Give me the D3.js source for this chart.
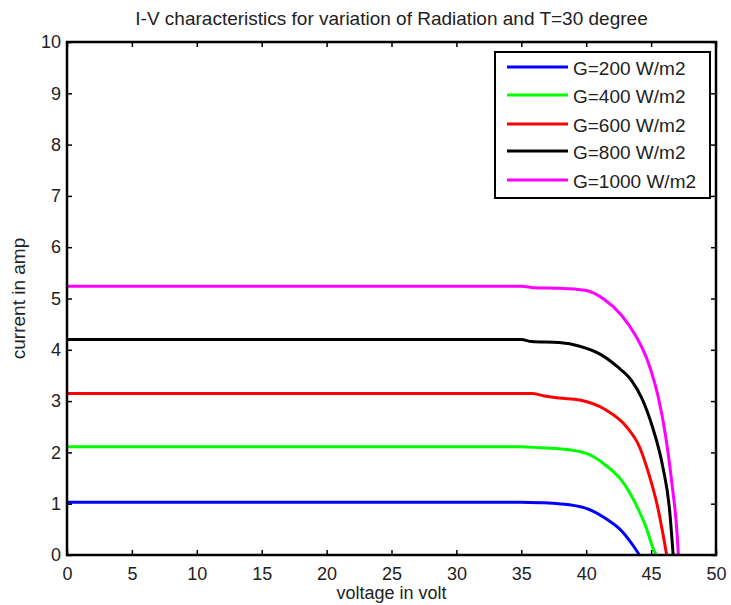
<!DOCTYPE html>
<html>
<head>
<meta charset="utf-8">
<script src="https://cdn.jsdelivr.net/npm/d3@7"></script>
<style>
  body { margin: 0; background: #fff; }
  text { font-family: "Liberation Sans", Arial, sans-serif; }
</style>
</head>
<body>
<svg id="chart" width="731" height="605"></svg>
<script>
// values (voltage in V, current in A)
const labels = ['G=200 W/m2', 'G=400 W/m2', 'G=600 W/m2', 'G=800 W/m2', 'G=1000 W/m2'];
const colors = ['#0000ff', '#00ff00', '#ff0000', '#000000', '#ff00ff'];

const v200 = [0, 10, 20, 30, 35, 36.5, 37.9, 40.0, 41.5, 42.8, 43.6, 44.1];
const i200 = [1.03, 1.03, 1.03, 1.03, 1.03, 1.02, 1.0, 0.91, 0.71, 0.45, 0.19, 0];

const v400 = [0, 10, 20, 30, 35, 36.5, 37.9, 40.0, 41.5, 42.8, 43.8, 44.6, 45.2, 45.4];
const i400 = [2.11, 2.11, 2.11, 2.11, 2.11, 2.09, 2.07, 1.98, 1.75, 1.43, 1.0, 0.55, 0.1, 0];

const v600 = [0, 10, 20, 30, 35.8, 36.8, 37.9, 39.5, 41.5, 43.1, 44.1, 44.8, 45.5, 46.0, 46.2];
const i600 = [3.15, 3.15, 3.15, 3.15, 3.15, 3.1, 3.06, 3.02, 2.83, 2.5, 2.11, 1.6, 0.94, 0.29, 0];

const v800 = [0, 10, 20, 30, 35, 35.8, 37.9, 39.5, 41.1, 42.4, 43.5, 44.3, 45.1, 45.9, 46.4, 46.7];
const i800 = [4.2, 4.2, 4.2, 4.2, 4.2, 4.16, 4.14, 4.07, 3.91, 3.67, 3.4, 3.05, 2.5, 1.72, 0.94, 0];

const v1000 = [0, 10, 20, 30, 35, 36, 37.9, 39.9, 41.4, 42.7, 43.8, 44.8, 45.55, 46.1, 46.6, 47.0, 47.1];
const i1000 = [5.24, 5.24, 5.24, 5.24, 5.24, 5.21, 5.2, 5.16, 4.98, 4.68, 4.28, 3.74, 3.08, 2.35, 1.4, 0.42, 0];

const xTicks = [0, 5, 10, 15, 20, 25, 30, 35, 40, 45, 50];
const yTicks = [0, 1, 2, 3, 4, 5, 6, 7, 8, 9, 10];

const seriesV = [v200, v400, v600, v800, v1000];
const seriesI = [i200, i400, i600, i800, i1000];

const svg = d3.select('#chart');
const mLeft = 67, mRight = 716, mTop = 42, mBottom = 555;

const x = d3.scaleLinear().domain([0, 50]).range([mLeft, mRight]);
const y = d3.scaleLinear().domain([0, 10]).range([mBottom, mTop]);

// curves
const line = d3.line()
    .x(d => x(d[0]))
    .y(d => y(d[1]))
    .curve(d3.curveMonotoneX);

seriesV.forEach((vs, k) => {
    const pts = vs.map((v, j) => [v, seriesI[k][j]]);
    svg.append('path')
        .attr('d', line(pts))
        .attr('fill', 'none')
        .attr('stroke', colors[k])
        .attr('stroke-width', 3);
});

// axes (ticks inside, on all four sides)
const tickLen = 5;
svg.append('g')
    .attr('transform', `translate(0,${mBottom})`)
    .call(d3.axisBottom(x).tickValues(xTicks).tickSize(-tickLen).tickPadding(12))
    .call(g => g.select('.domain').remove());
svg.append('g')
    .attr('transform', `translate(0,${mTop})`)
    .call(d3.axisTop(x).tickValues(xTicks).tickSize(-tickLen).tickFormat(''))
    .call(g => g.select('.domain').remove());
svg.append('g')
    .attr('transform', `translate(${mLeft},0)`)
    .call(d3.axisLeft(y).tickValues(yTicks).tickSize(-tickLen).tickPadding(6))
    .call(g => g.select('.domain').remove());
svg.append('g')
    .attr('transform', `translate(${mRight},0)`)
    .call(d3.axisRight(y).tickValues(yTicks).tickSize(-tickLen).tickFormat(''))
    .call(g => g.select('.domain').remove());

svg.selectAll('.tick line').attr('stroke', '#000').attr('stroke-width', 1.5);
svg.selectAll('.tick text').attr('font-size', 18).attr('fill', '#222')
    .style('font-family', '"Liberation Sans", Arial, sans-serif');

svg.append('rect')
    .attr('x', mLeft).attr('y', mTop)
    .attr('width', mRight - mLeft).attr('height', mBottom - mTop)
    .attr('fill', 'none').attr('stroke', '#000').attr('stroke-width', 2.5);

// title and axis labels
svg.append('text')
    .attr('x', (mLeft + mRight) / 2).attr('y', 25)
    .attr('text-anchor', 'middle').attr('font-size', 19).attr('fill', '#222')
    .text('I-V characteristics for variation of Radiation and T=30 degree');

svg.append('text')
    .attr('x', (mLeft + mRight) / 2).attr('y', 599)
    .attr('text-anchor', 'middle').attr('font-size', 18).attr('fill', '#222')
    .text('voltage in volt');

svg.append('text')
    .attr('transform', `translate(25,${(mTop + mBottom) / 2}) rotate(-90)`)
    .attr('text-anchor', 'middle').attr('font-size', 19).attr('fill', '#222')
    .text('current in amp');

// legend
const lg = svg.append('g');
lg.append('rect')
    .attr('x', 495).attr('y', 52).attr('width', 215).attr('height', 146)
    .attr('fill', '#fff').attr('stroke', '#000').attr('stroke-width', 2);
const rowY = [67, 95, 124, 151, 180];
labels.forEach((lab, k) => {
    lg.append('line')
        .attr('x1', 507).attr('x2', 568)
        .attr('y1', rowY[k]).attr('y2', rowY[k])
        .attr('stroke', colors[k]).attr('stroke-width', 3);
    lg.append('text')
        .attr('x', 573).attr('y', rowY[k] + 8)
        .attr('font-size', 19).attr('fill', '#222')
        .text(lab);
});
</script>
</body>
</html>
